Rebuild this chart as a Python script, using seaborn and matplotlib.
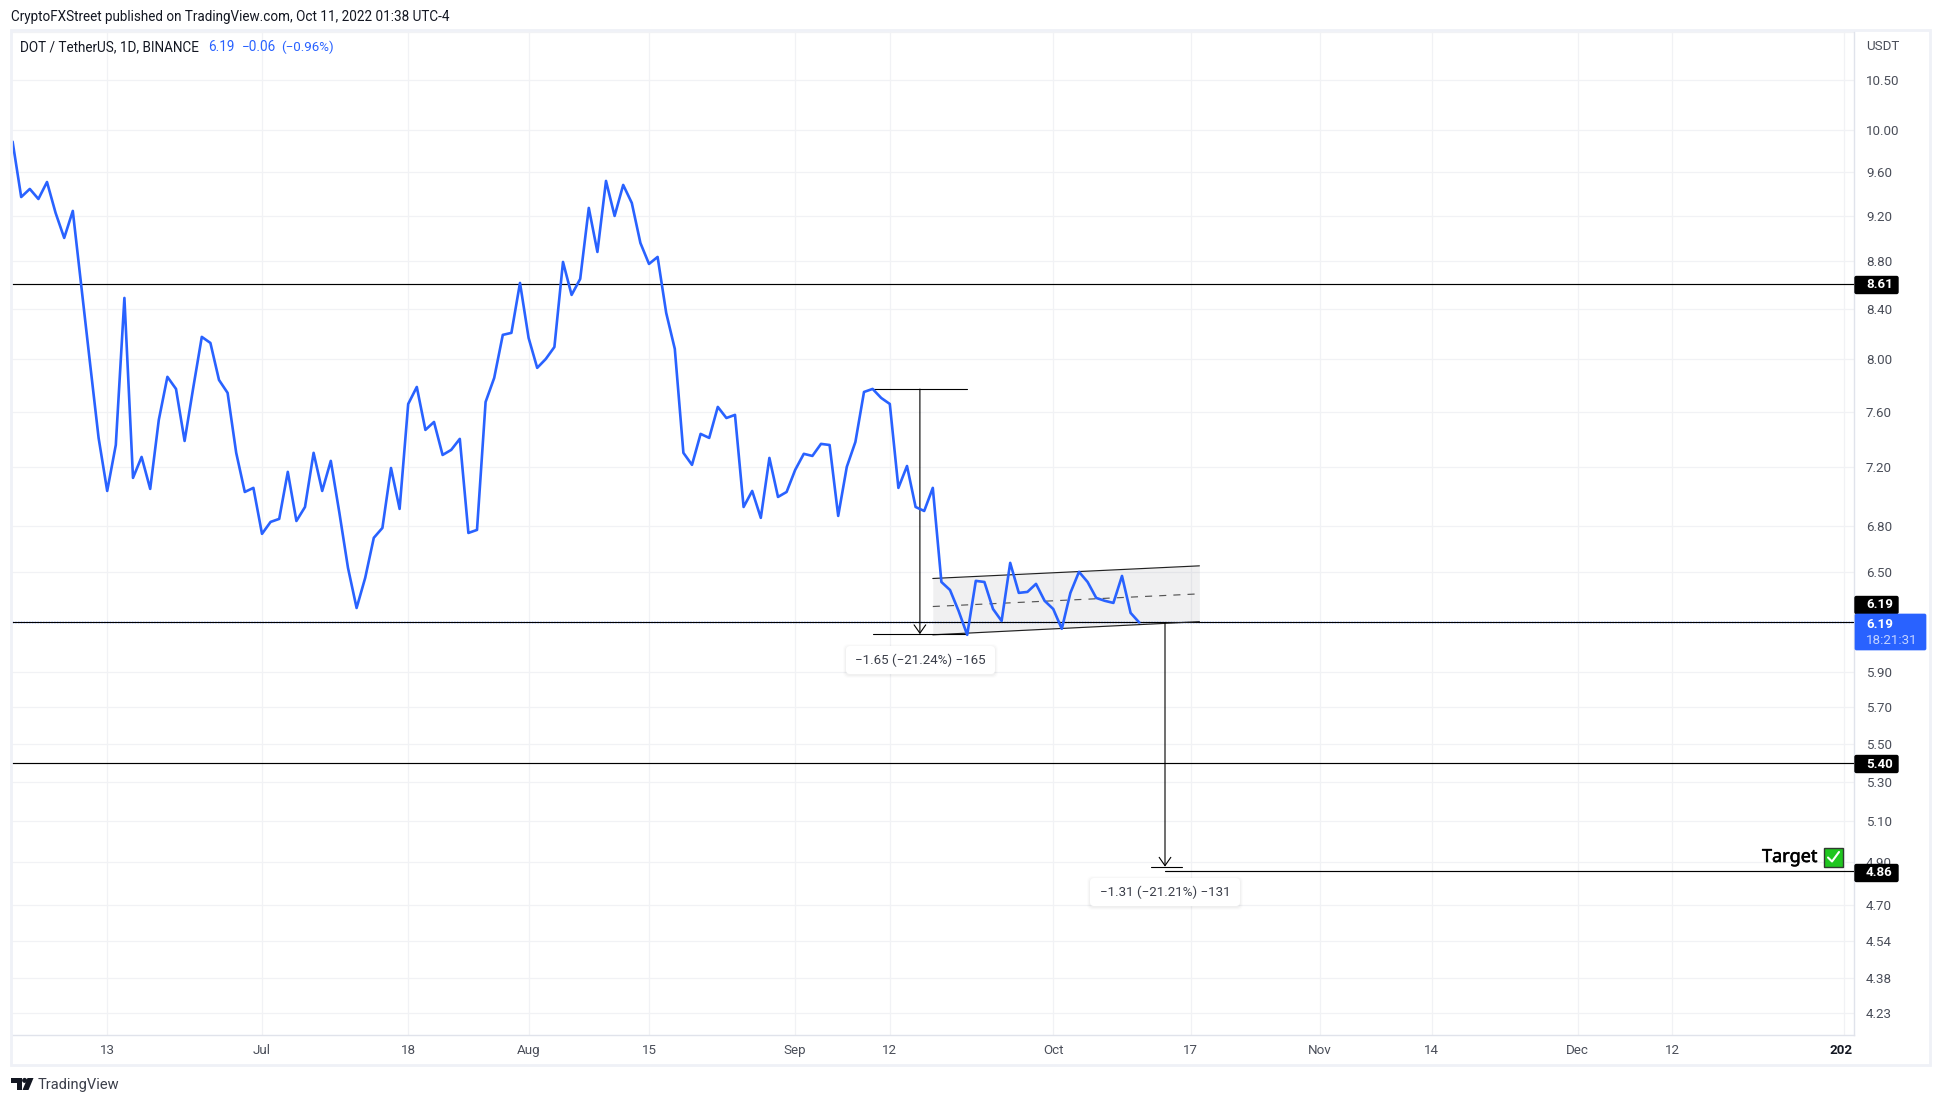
import numpy as np
import pandas as pd
import seaborn as sns
import matplotlib
matplotlib.use("Agg")
import matplotlib.pyplot as plt
import matplotlib.dates as mdates
import matplotlib.patheffects as pe
from matplotlib.patches import Rectangle, FancyBboxPatch, Polygon, Circle
from matplotlib.lines import Line2D
from matplotlib.transforms import Affine2D, ScaledTranslation
from matplotlib.ticker import NullFormatter

W, H = 1941, 1104

closes = [
 9.887, 9.368, 9.442, 9.350, 9.506, 9.224, 9.002, 9.242, 8.582, 7.970, 7.409, 7.036,
 7.358, 8.491, 7.126, 7.273, 7.050, 7.540, 7.863, 7.771, 7.387, 7.778, 8.175, 8.127,
 7.839, 7.741, 7.302, 7.029, 7.057, 6.748, 6.827, 6.847, 7.168, 6.833, 6.927, 7.302,
 7.036, 7.245, 6.887, 6.528, 6.278, 6.465, 6.722, 6.787, 7.195, 6.914, 7.658, 7.786,
 7.467, 7.525, 7.287, 7.323, 7.402, 6.754, 6.774, 7.673, 7.855, 8.191, 8.207, 8.616,
 8.167, 7.932, 8.001, 8.095, 8.794, 8.516, 8.650, 9.269, 8.880, 9.516, 9.197, 9.479,
 9.314, 8.958, 8.777, 8.837, 8.368, 8.080, 7.302, 7.217, 7.438, 7.409, 7.636, 7.554,
 7.577, 6.927, 7.036, 6.854, 7.266, 6.995, 7.029, 7.182, 7.295, 7.280, 7.366, 7.358,
 6.867, 7.203, 7.380, 7.748, 7.771, 7.703, 7.658, 7.057, 7.209, 6.927, 6.900, 7.057,
 6.439, 6.389, 6.260, 6.116, 6.446, 6.439, 6.272, 6.199, 6.560, 6.371, 6.377, 6.427,
 6.322, 6.272, 6.152, 6.371, 6.503, 6.439, 6.340, 6.322, 6.309, 6.477, 6.248, 6.19,
]
dates = pd.date_range("2022-06-02", periods=len(closes), freq="D")

price_ticks = [10.50, 10.00, 9.60, 9.20, 8.80, 8.40, 8.00, 7.60, 7.20, 6.80, 6.50,
               5.90, 5.70, 5.50, 5.30, 5.10, 4.90, 4.70, 4.54, 4.38, 4.23]
time_tick_dates = ["2022-06-13", "2022-07-01", "2022-07-18", "2022-08-01", "2022-08-15",
                   "2022-09-01", "2022-09-12", "2022-10-01", "2022-10-17", "2022-11-01",
                   "2022-11-14", "2022-12-01", "2022-12-12", "2023-01-01"]
time_tick_labels = ["13", "Jul", "18", "Aug", "15", "Sep", "12", "Oct", "17", "Nov",
                    "14", "Dec", "12", "202"]
levels = [8.61, 5.40]
last_price = 6.19
target_level = 4.86
tag_levels = ["8.61", "6.19", "5.40", "4.86"]
measure_1 = {"hi": 7.77, "lo": 6.12, "x": "2022-09-15 12:00", "x0": "2022-09-10", "x1": "2022-09-21"}
measure_2 = {"hi": 6.19, "lo": 4.88, "x": "2022-10-14", "x0": "2022-10-12 08:00", "x1": "2022-10-16"}
channel_x = ["2022-09-17", "2022-10-18"]
channel_top = [6.461, 6.541]
channel_mid = [6.287, 6.365]
channel_bot = [6.116, 6.195]

sns.set_theme(style="white")
plt.rcParams["font.family"] = ["Roboto", "DejaVu Sans"]
GRID = "#f1f2f5"
AXC = "#e0e3eb"
TXT = "#4a4e59"
BLUE = "#2962ff"

fig = plt.figure(figsize=(W / 100, H / 100), dpi=100, facecolor="white")
L, R, TOP, BOT = 12, 1854, 31, 1034.5
ax = fig.add_axes([L / W, 1 - BOT / H, (R - L) / W, (BOT - TOP) / H])
T = Affine2D().scale(1, -1).translate(0, H)

df = pd.DataFrame({"date": dates, "close": closes})
sns.lineplot(data=df, x="date", y="close", color=BLUE, lw=1.9, ax=ax, zorder=5, errorbar=None)

ax.set_yscale("log")
ax.set_ylim(4.144, 11.012)
jul1 = mdates.date2num(pd.Timestamp("2022-07-01"))
ax.set_xlim(jul1 + (L - 262) / 8.6, jul1 + (R - 262) / 8.6)
ax.set_xlabel("")
ax.set_ylabel("")

# price axis
ax.yaxis.tick_right()
ax.set_yticks(price_ticks)
ax.set_yticklabels([f"{p:.2f}" for p in price_ticks])
ax.set_yticks([11.0], minor=True)
ax.yaxis.set_minor_formatter(NullFormatter())
ax.tick_params(axis="y", which="both", length=0, pad=8.6, labelsize=9.6, labelcolor=TXT)

# time axis
ax.set_xticks([mdates.date2num(pd.Timestamp(d)) for d in time_tick_dates])
ax.set_xticklabels(time_tick_labels)
ax.tick_params(axis="x", length=0, pad=7.0, labelsize=9.6, labelcolor=TXT)
lab = ax.get_xticklabels()[-1]
lab.set_fontweight("bold")
lab.set_color("#131722")
lab.set_transform(lab.get_transform() + ScaledTranslation(-3 / 100, 0, fig.dpi_scale_trans))

ax.grid(True, which="both", color=GRID, lw=0.9)
ax.set_axisbelow(True)
for s in ["top", "left"]:
    ax.spines[s].set_visible(False)
for s in ["right", "bottom"]:
    ax.spines[s].set_color(AXC)
    ax.spines[s].set_linewidth(1.0)

# horizontal levels
ax.axhline(last_price, color=BLUE, lw=1.0, ls=(0, (1, 1)), zorder=2)
ax.plot([ax.get_xlim()[0], ax.get_xlim()[1]], [last_price * 1.0005] * 2, color="black", lw=0.8, zorder=3)
for lv in levels:
    ax.axhline(lv, color="black", lw=0.85, zorder=3)
ax.plot([mdates.date2num(pd.Timestamp(measure_2["x"])), ax.get_xlim()[1]], [target_level] * 2,
        color="black", lw=0.85, zorder=3)

# channel
cx = [mdates.date2num(pd.Timestamp(d)) for d in channel_x]
ax.fill_between(cx, channel_bot, channel_top, color="#787b86", alpha=0.11, lw=0, zorder=1.5)
ax.plot(cx, channel_top, color="#222222", lw=0.85, zorder=3)
ax.plot(cx, channel_bot, color="#222222", lw=0.85, zorder=3)
ax.plot(cx, channel_mid, color="#555555", lw=0.85, ls=(0, (6, 6)), zorder=3)

# measure tools
for m in (measure_1, measure_2):
    mx = mdates.date2num(pd.Timestamp(m["x"]))
    ax.plot([mdates.date2num(pd.Timestamp(m["x0"])), mdates.date2num(pd.Timestamp(m["x1"]))],
            [m["lo"]] * 2, color="black", lw=0.8, zorder=3)
    ax.annotate("", xy=(mx, m["lo"]), xytext=(mx, m["hi"]), zorder=3,
                arrowprops=dict(arrowstyle="->,head_length=0.6,head_width=0.42", color="black",
                                lw=0.8, shrinkA=0, shrinkB=0, mutation_scale=10))
ax.plot([mdates.date2num(pd.Timestamp(measure_1["x0"])), mdates.date2num(pd.Timestamp(measure_1["x1"]))],
        [measure_1["hi"]] * 2, color="black", lw=0.8, zorder=3)


def px_text(x, y, s, **kw):
    kw.setdefault("va", "center")
    kw.setdefault("ha", "left")
    kw.setdefault("zorder", 12)
    return fig.text(x, y, s, transform=T, **kw)


def px_patch(p):
    p.set_transform(T)
    p.set_zorder(p.get_zorder() if p.get_zorder() > 5 else 10)
    fig.add_artist(p)
    return p


# outer frame
px_patch(Rectangle((11, 30), 1919, 1035, fc="none", ec="#eff1f7", lw=2.0, zorder=10))

# header + legend
px_text(11, 17.5, "CryptoFXStreet published on TradingView.com, Oct 11, 2022 01:38 UTC-4",
        fontsize=9.75, color="#131722")
px_text(20, 47, "DOT / TetherUS, 1D, BINANCE", fontsize=9.75, color="#131722")
px_text(208, 47, "6.19", fontsize=9.75, color=BLUE)
px_text(242, 47, "\u22120.06", fontsize=9.75, color=BLUE)
px_text(281, 47, "(\u22120.96%)", fontsize=9.6, color=BLUE)
px_text(1866, 46, "USDT", fontsize=9.6, color=TXT)

# price tags
for s, yc in zip(tag_levels, [285, 605, 764, 873]):
    px_patch(FancyBboxPatch((1855, yc - 8.5), 43, 17, boxstyle="round,pad=0,rounding_size=1.5",
                            fc="black", ec="black", lw=1.0, zorder=11))
    px_text(1866, yc, s, fontsize=9.6, color="white", fontweight="bold")
px_patch(FancyBboxPatch((1855, 614), 71, 36, boxstyle="round,pad=0,rounding_size=1.5",
                        fc=BLUE, ec=BLUE, lw=0.5, zorder=11))
px_text(1866, 624, "6.19", fontsize=9.6, color="white", fontweight="bold")
px_text(1866, 640, "18:21:31", fontsize=9.6, color="#c3d3ff")

# measure labels
for (x0, y0, w, h), s in zip([(846, 646, 149, 28), (1090, 878, 150, 28)],
                             ["\u22121.65 (\u221221.24%) \u2212165", "\u22121.31 (\u221221.21%) \u2212131"]):
    for grow, a in [(3, .012), (2, .018), (1, .025)]:
        px_patch(FancyBboxPatch((x0 - grow, y0 - grow + 1), w + 2 * grow, h + 2 * grow,
                                boxstyle="round,pad=0,rounding_size=5", fc="black", ec="none",
                                alpha=a, zorder=10))
    px_patch(FancyBboxPatch((x0, y0), w, h, boxstyle="round,pad=0,rounding_size=4",
                            fc="white", ec="none", zorder=11))
    px_text(x0 + w / 2, y0 + h / 2, s, ha="center", fontsize=9.6, color="#3b3f4a")

# target
px_text(1762, 857, "Target", fontsize=13, color="black", family=["Noto Sans", "DejaVu Sans"],
        path_effects=[pe.withStroke(linewidth=0.4, foreground="black")])
px_patch(Rectangle((1823.5, 847.5), 19, 19, fc="#1fc61f", ec="#2f3b2f", lw=1.0, zorder=11))
fig.add_artist(Line2D([1828, 1832, 1839], [857.5, 861.5, 852], color="white", lw=1.5, transform=T, zorder=12))

# footer logo
px_patch(Polygon([(11, 1078), (22, 1078), (22, 1090), (17, 1090), (17, 1083), (11, 1083)],
                 closed=True, fc="#131722", ec="none", zorder=11))
px_patch(Circle((24.6, 1080.4), 2.5, fc="#131722", ec="none", zorder=11))
px_patch(Polygon([(27.5, 1078), (33.5, 1078), (28.5, 1090), (22.5, 1090)], closed=True,
                 fc="#131722", ec="none", zorder=11))
px_text(38, 1085.5, "TradingView", fontsize=10.5, color="#3b3f4a")

fig.savefig("out.png", dpi=100, facecolor="white")
